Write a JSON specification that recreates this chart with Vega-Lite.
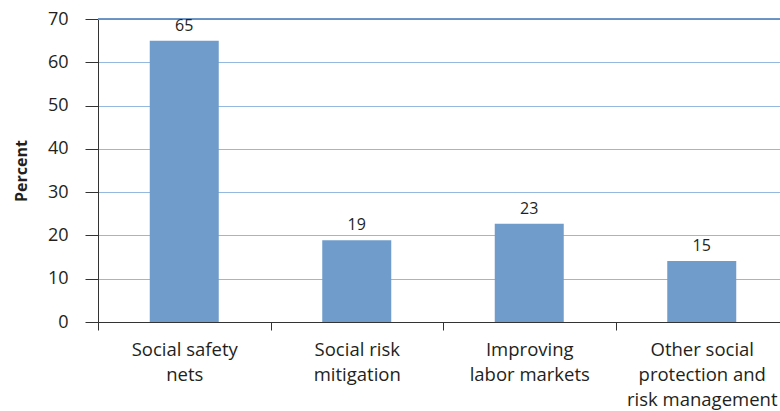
{
  "$schema": "https://vega.github.io/schema/vega-lite/v6.json",
  "width": 682,
  "height": 303,
  "autosize": "none",
  "padding": {"left": 98, "top": 19, "right": 0, "bottom": 89},
  "config": {"font": "Open Sans", "view": {"stroke": null}},
  "data": {
    "values": [
      {"category": "Social safety nets", "value": 65, "label": "65"},
      {"category": "Social risk mitigation", "value": 18.9, "label": "19"},
      {"category": "Improving labor markets", "value": 22.7, "label": "23"},
      {"category": "Other social protection and risk management", "value": 14.1, "label": "15"}
    ]
  },
  "layer": [
    {
      "mark": {"type": "bar", "color": "#6f9cca", "width": {"band": 0.4}},
      "encoding": {
        "x": {
          "field": "category",
          "type": "nominal",
          "sort": null,
          "scale": {"range": [0, 690], "paddingInner": 0, "paddingOuter": 0},
          "axis": {
            "title": null,
            "grid": false,
            "labelAngle": 0,
            "tickBand": "extent",
            "tickSize": 8,
            "tickColor": "#333333",
            "domainColor": "#333333",
            "labelFontSize": 18.5,
            "labelLineHeight": 25,
            "labelPadding": 10,
            "labelColor": "#231f20",
            "labelExpr": "datum.value == 'Social safety nets' ? ['Social safety', 'nets'] : datum.value == 'Social risk mitigation' ? ['Social risk', 'mitigation'] : datum.value == 'Improving labor markets' ? ['Improving', 'labor markets'] : datum.value == 'Other social protection and risk management' ? ['Other social', 'protection and', 'risk management'] : ''"
          }
        },
        "y": {
          "field": "value",
          "type": "quantitative",
          "scale": {"domain": [0, 70]},
          "axis": {
            "values": [0, 10, 20, 30, 40, 50, 60, 70],
            "grid": true,
            "gridColor": "#93b9df",
            "gridWidth": 1.2,
            "tickSize": 13,
            "tickColor": "#333333",
            "domainColor": "#333333",
            "labelFontSize": 18,
            "labelPadding": 17,
            "labelColor": "#231f20",
            "title": "Percent",
            "titleFontSize": 16,
            "titleFontWeight": "bold",
            "titleColor": "#231f20",
            "titleAngle": -90,
            "titleX": -77,
            "titleY": 151.5,
            "titleAlign": "center",
            "titleBaseline": "middle"
          }
        }
      }
    },
    {
      "mark": {"type": "rule", "color": "#6590c2", "strokeWidth": 1},
      "encoding": {"y": {"datum": 70}}
    },
    {
      "mark": {"type": "text", "baseline": "bottom", "dy": -7, "fontSize": 16, "color": "#231f20"},
      "encoding": {
        "x": {"field": "category", "type": "nominal", "sort": null},
        "y": {"field": "value", "type": "quantitative"},
        "text": {"field": "label"}
      }
    }
  ]
}
